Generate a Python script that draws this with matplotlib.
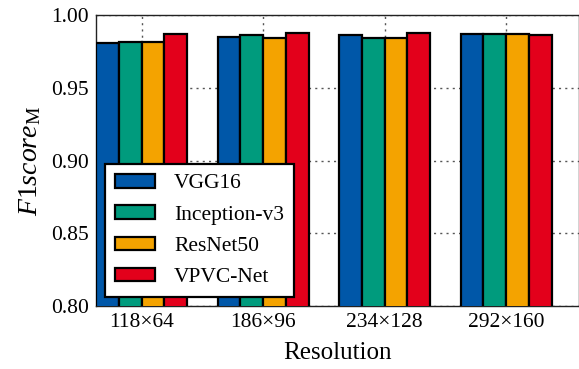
import matplotlib
matplotlib.use("Agg")
import matplotlib.pyplot as plt
import numpy as np

# data
resolutions = ["118\u00d764", "186\u00d796", "234\u00d7128", "292\u00d7160"]
models = ["VGG16", "Inception-v3", "ResNet50", "VPVC-Net"]
vgg16 = [0.9810, 0.9850, 0.9865, 0.9870]
inception = [0.9814, 0.9863, 0.9844, 0.9870]
resnet = [0.9817, 0.9844, 0.9844, 0.9867]
vpvc = [0.9867, 0.9874, 0.9879, 0.9865]
colors = ["#0057A8", "#009B7D", "#F4A300", "#E3001B"]

plt.rcParams["font.family"] = ["Liberation Serif", "DejaVu Serif"]
plt.rcParams["mathtext.fontset"] = "custom"
plt.rcParams["mathtext.rm"] = "Liberation Serif"
plt.rcParams["mathtext.it"] = "Liberation Serif:italic"

fig = plt.figure(figsize=(5.79, 3.69), dpi=100)
ax = fig.add_axes([0.166, 0.171, 0.834, 0.788])

x = np.arange(len(resolutions))
w = 0.1875
series = [vgg16, inception, resnet, vpvc]
for i, (vals, name, c) in enumerate(zip(series, models, colors)):
    ax.bar(x + (i - 1.5) * w, vals, w, color=c, edgecolor="black",
           linewidth=1.6, label=name, zorder=3)

ax.set_xlim(-0.375, 3.6)
ax.set_ylim(0.80, 1.00)
ax.set_xticks(x)
ax.set_xticklabels(resolutions)
ax.set_yticks([0.80, 0.85, 0.90, 0.95, 1.00])
ax.set_yticklabels(["0.80", "0.85", "0.90", "0.95", "1.00"])
ax.tick_params(labelsize=15.5, direction="in", length=0, pad=5)
ax.grid(True, linestyle=(0, (1.5, 3)), color="#555555", linewidth=1.0, zorder=0)
for s in ax.spines.values():
    s.set_linewidth(1.0)
    s.set_color("#222222")

ax.set_xlabel("Resolution", fontsize=18, labelpad=7)
ax.set_ylabel(r"$F1score_{\mathrm{M}}$", fontsize=20, labelpad=6)

leg = ax.legend(loc="lower left", bbox_to_anchor=(0.019, 0.031), fontsize=15.5,
                handlelength=1.85, handleheight=0.6, borderpad=0.45,
                labelspacing=0.55, handletextpad=0.9, fancybox=False,
                framealpha=1, borderaxespad=0)
leg.get_frame().set_edgecolor("black")
leg.get_frame().set_linewidth(1.6)
leg.set_zorder(5)

fig.savefig("out.png", dpi=100)
